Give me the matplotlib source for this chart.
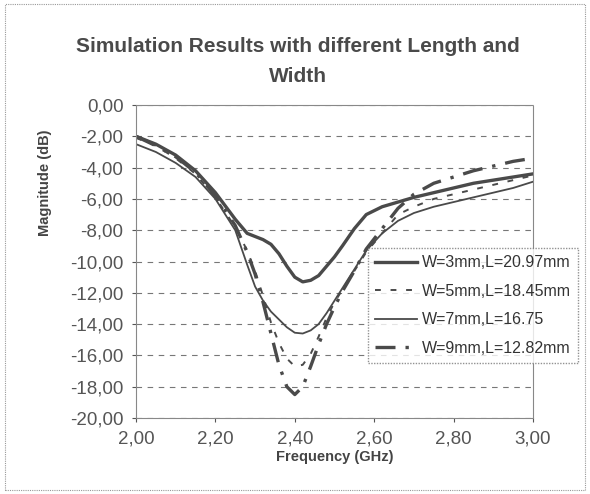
import matplotlib
matplotlib.use("Agg")
import matplotlib.pyplot as plt
from matplotlib.patches import Rectangle

plt.rcParams['font.family'] = ['Liberation Sans', 'DejaVu Sans']

# frequency points (GHz)
freq = [2.00, 2.05, 2.10, 2.15, 2.20, 2.25, 2.28, 2.30, 2.32, 2.34, 2.36, 2.38, 2.40,
        2.42, 2.44, 2.46, 2.48, 2.50, 2.52, 2.55, 2.58, 2.62, 2.66, 2.70, 2.75, 2.80,
        2.85, 2.90, 2.95, 3.00]

# magnitude (dB)
w3 = [-2.0, -2.5, -3.2, -4.2, -5.6, -7.3, -8.2, -8.4, -8.6, -8.9, -9.5, -10.3, -11.0,
      -11.3, -11.2, -10.9, -10.3, -9.7, -9.0, -7.9, -7.0, -6.5, -6.2, -5.9, -5.6, -5.3,
      -5.0, -4.8, -4.6, -4.4]
w5 = [-2.1, -2.6, -3.4, -4.4, -5.9, -7.8, -9.3, -10.6, -12.2, -13.9, -15.2, -16.2, -16.7,
      -16.6, -15.9, -14.8, -13.6, -12.6, -11.8, -10.6, -9.4, -8.2, -7.0, -6.5, -6.0, -5.7,
      -5.4, -5.1, -4.8, -4.5]
w7 = [-2.5, -3.0, -3.7, -4.6, -6.0, -8.0, -10.2, -11.6, -12.5, -13.2, -13.7, -14.2, -14.55,
      -14.6, -14.4, -14.0, -13.3, -12.5, -11.7, -10.5, -9.3, -8.2, -7.4, -6.9, -6.5, -6.2,
      -5.9, -5.6, -5.3, -4.9]
w9 = [-2.0, -2.6, -3.3, -4.3, -5.8, -7.7, -9.4, -10.8, -12.6, -14.6, -16.6, -18.0, -18.5,
      -18.0, -16.7, -15.3, -14.0, -12.9, -11.9, -10.6, -9.2, -7.9, -6.6, -5.7, -5.0, -4.6,
      -4.2, -3.9, -3.6, -3.4]

labels = ["W=3mm,L=20.97mm", "W=5mm,L=18.45mm", "W=7mm,L=16.75", "W=9mm,L=12.82mm"]
yticks = [0, -2, -4, -6, -8, -10, -12, -14, -16, -18, -20]
xticks = [2.0, 2.2, 2.4, 2.6, 2.8, 3.0]

col = "#4a4a4a"

fig = plt.figure(figsize=(5.9, 4.94), dpi=100)
ax = fig.add_axes([0.2305, 0.1538, 0.6729, 0.6336])

ax.plot(freq, w3, color=col, lw=2.4, solid_joinstyle='round', label=labels[0])
ax.plot(freq, w5, color=col, lw=1.4, linestyle=(0, (3, 5)), label=labels[1])
ax.plot(freq, w7, color=col, lw=1.3, solid_joinstyle='round', label=labels[2])
ax.plot(freq, w9, color=col, lw=2.4, linestyle=(0, (6, 3, 1, 3)), label=labels[3])

ax.set_xlim(2.0, 3.0)
ax.set_ylim(-20, 0)
ax.set_xticks(xticks)
ax.set_yticks(yticks)
ax.set_xticklabels([f"{t:.2f}".replace(".", ",") for t in xticks])
ax.set_yticklabels([f"{t:.2f}".replace(".", ",") for t in yticks])
ax.tick_params(labelsize=13.5, colors="#555555", length=3, width=0.8, pad=6)
ax.yaxis.grid(True, linestyle=(0, (5, 5)), color="#777777", lw=0.8)
for s in ax.spines.values():
    s.set_color("#888888")
    s.set_linewidth(0.8)
    s.set_linestyle((0, (1, 1)))

ax.set_xlabel("Frequency (GHz)", fontsize=10.5, fontweight="bold", color="#444444", labelpad=2)
fig.text(0.076, 0.63, "Magnitude (dB)", rotation=90, fontsize=10.5, fontweight="bold",
         color="#444444", ha="center", va="center")

fig.text(0.505, 0.905, "Simulation Results with different Length and", fontsize=15,
         fontweight="bold", color="#4a4a4a", ha="center", va="center")
fig.text(0.505, 0.846, "Width", fontsize=15, fontweight="bold", color="#4a4a4a",
         ha="center", va="center")

leg = ax.legend(loc="upper left", bbox_to_anchor=(368 / 590, 1 - 248 / 494),
                bbox_transform=fig.transFigure, fontsize=11.5, frameon=True,
                fancybox=False, handlelength=2.6, handletextpad=0.3,
                borderpad=0.45, labelspacing=0.85, borderaxespad=0)
leg.get_frame().set_edgecolor("#777777")
leg.get_frame().set_linestyle((0, (1, 1)))
for t in leg.get_texts():
    t.set_color("#333333")

fig.patches.append(Rectangle((0.008, 0.008), 0.984, 0.984, transform=fig.transFigure,
                             fill=False, edgecolor="#999999", lw=0.8, linestyle=(0, (1, 1))))

fig.savefig("out.png", dpi=100)
